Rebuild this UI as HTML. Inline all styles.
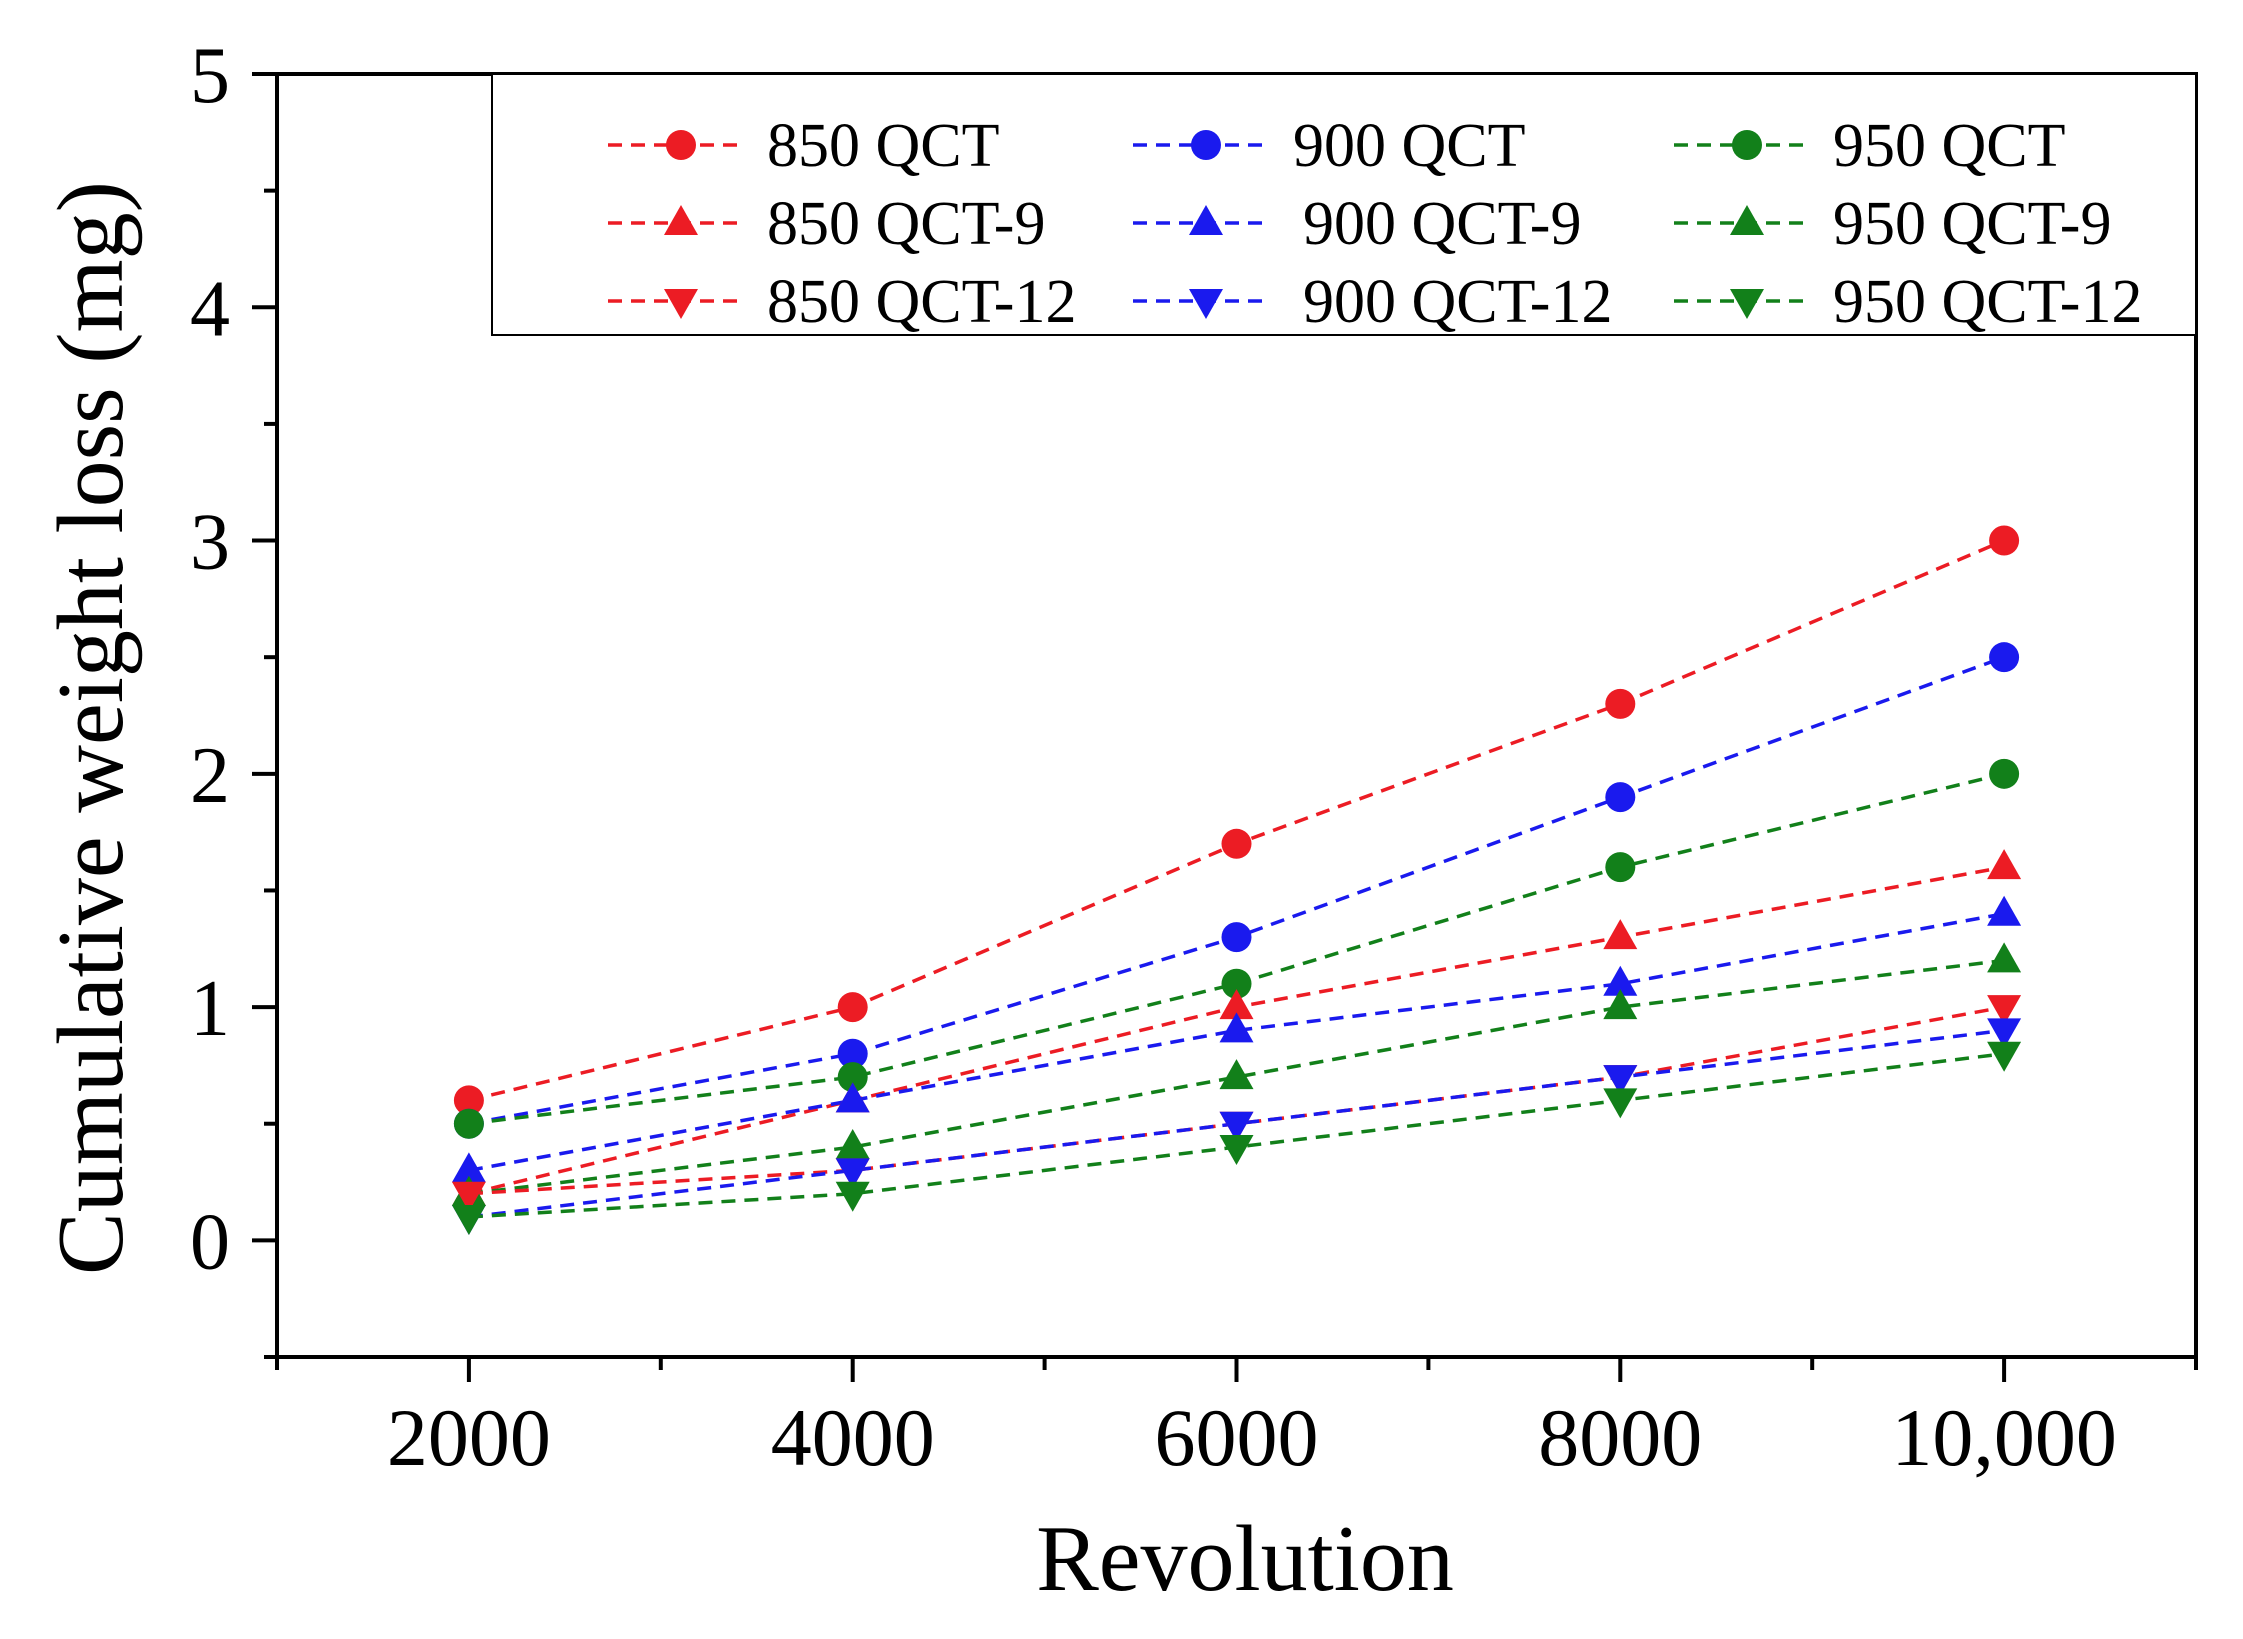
<!DOCTYPE html>
<html><head><meta charset="utf-8"><style>
html,body{margin:0;padding:0;background:#fff;}
svg text{font-family:"Liberation Serif",serif;fill:#000;}
</style></head><body>
<svg id="chart" width="2243" height="1634" viewBox="0 0 2243 1634" xmlns="http://www.w3.org/2000/svg">
<g id="plot"></g>
</svg>
<script>
const categories = [2000, 4000, 6000, 8000, 10000];
const xTickLabels = ["2000", "4000", "6000", "8000", "10,000"];
const yTickLabels = ["0", "1", "2", "3", "4", "5"];
const seriesNames = ["850 QCT","900 QCT","950 QCT","850 QCT-9","900 QCT-9","950 QCT-9","850 QCT-12","900 QCT-12","950 QCT-12"];
const s850 = [0.6, 1.0, 1.7, 2.3, 3.0];
const s900 = [0.5, 0.8, 1.3, 1.9, 2.5];
const s950 = [0.5, 0.7, 1.1, 1.6, 2.0];
const s850_9 = [0.2, 0.6, 1.0, 1.3, 1.6];
const s900_9 = [0.3, 0.6, 0.9, 1.1, 1.4];
const s950_9 = [0.2, 0.4, 0.7, 1.0, 1.2];
const s850_12 = [0.2, 0.3, 0.5, 0.7, 1.0];
const s900_12 = [0.1, 0.3, 0.5, 0.7, 0.9];
const s950_12 = [0.1, 0.2, 0.4, 0.6, 0.8];

const NS = "http://www.w3.org/2000/svg";
const svg = document.getElementById("chart");
const g = document.getElementById("plot");
const X0 = 277, X1 = 2196, Y0 = 74, Y1 = 1357;
const xMin = 1000, xMax = 11000, yMin = -0.5, yMax = 5;
function xs(v){ return X0 + (v - xMin) / (xMax - xMin) * (X1 - X0); }
function ys(v){ return Y1 - (v - yMin) / (yMax - yMin) * (Y1 - Y0); }
function mk(tag, attrs, parent){
  const e = document.createElementNS(NS, tag);
  for (const k in attrs) e.setAttribute(k, attrs[k]);
  (parent || svg).appendChild(e);
  return e;
}
const RED = "#ec1c24", BLUE = "#1a1aee", GREEN = "#12801a";
const colors = [RED, BLUE, GREEN, RED, BLUE, GREEN, RED, BLUE, GREEN];
const shapes = ["circle","circle","circle","up","up","up","down","down","down"];
const allSeries = [s850, s900, s950, s850_9, s900_9, s950_9, s850_12, s900_12, s950_12];

function marker(shape, cx, cy, color, parent, name){
  let e;
  if (shape === "circle") {
    e = mk("circle", {cx: cx, cy: cy, r: 15, fill: color}, parent);
  } else if (shape === "up") {
    e = mk("polygon", {points: `${cx},${cy-18} ${cx+17},${cy+12} ${cx-17},${cy+12}`, fill: color}, parent);
  } else {
    e = mk("polygon", {points: `${cx},${cy+18} ${cx+17},${cy-12} ${cx-17},${cy-12}`, fill: color}, parent);
  }
  
  
  return e;
}

allSeries.forEach((vals, si) => {
  const pts = vals.map((v, i) => xs(categories[i]) + "," + ys(v)).join(" ");
  const pl = mk("polyline", {points: pts, fill: "none", stroke: colors[si], "stroke-width": 3.5, "stroke-dasharray": "14,9"}, g);
  
  
});
allSeries.forEach((vals, si) => {
  vals.forEach((v, i) => {
    marker(shapes[si], xs(categories[i]), ys(v), colors[si], g, 'point-' + seriesNames[si].toLowerCase().replace(/ /g, '-') + '-' + categories[i]);
  });
});

const frame = mk("rect", {x: X0, y: Y0, width: X1 - X0, height: Y1 - Y0, fill: "none", stroke: "#000", "stroke-width": 4});



for (let v = -0.5; v <= 5.001; v += 0.5) {
  const major = Math.abs(v - Math.round(v)) < 1e-6;
  const t = mk("line", {x1: X0, x2: X0 - (major ? 25 : 13), y1: ys(v), y2: ys(v), stroke: "#000", "stroke-width": 4});
  
  
}
yTickLabels.forEach((lab, i) => {
  const t = mk("text", {x: 230, y: ys(i) + 28, "font-size": 80, "text-anchor": "end"});
  t.textContent = lab;
  
  
});
for (let v = 1000; v <= 11000; v += 1000) {
  const major = v % 2000 === 0;
  const t = mk("line", {x1: xs(v), x2: xs(v), y1: Y1, y2: Y1 + (major ? 25 : 13), stroke: "#000", "stroke-width": 4});
  
  
}
xTickLabels.forEach((lab, i) => {
  const t = mk("text", {x: xs(categories[i]), y: 1465, "font-size": 82, "text-anchor": "middle"});
  t.textContent = lab;
  
  
});
const xt = mk("text", {x: 1245, y: 1590, "font-size": 94, "text-anchor": "middle"});
xt.textContent = "Revolution";


const yt = mk("text", {x: 0, y: 0, "font-size": 94, "text-anchor": "middle", transform: "translate(122,728) rotate(-90)"});
yt.textContent = "Cumulative weight loss (mg)";



const lg = mk("g", {});


const lbox = mk("rect", {x: 492, y: 74, width: X1 - 492, height: 261, fill: "#fff", stroke: "#000", "stroke-width": 2}, lg);


const colX = [608, 1133, 1674];
const textX = [767, 1293, 1833];
const rowY = [145, 223, 301];
seriesNames.forEach((name, si) => {
  const c = si % 3, r = Math.floor(si / 3);
  const eg = mk("g", {}, lg);
  
  
  mk("line", {x1: colX[c], x2: colX[c] + 136, y1: rowY[r], y2: rowY[r], stroke: colors[si], "stroke-width": 3.5, "stroke-dasharray": "14,9"}, eg);
  marker(shapes[si], colX[c] + 73, rowY[r], colors[si], eg, 'legend-marker');
  const t = mk("text", {x: textX[c] + (c === 1 && r > 0 ? 10 : 0), y: rowY[r] + 21, "font-size": 62}, eg);
  t.textContent = name;
  
  
});
</script>
</body></html>
